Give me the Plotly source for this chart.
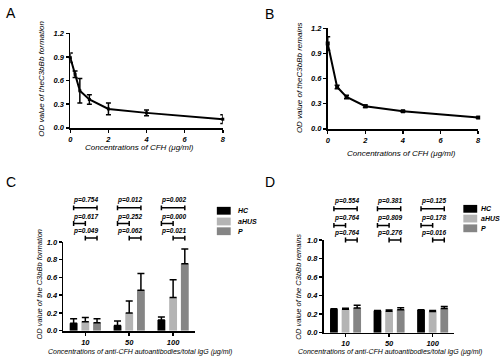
import plotly.graph_objects as go

W, H = 500, 364
def px(x): return x / W
def py(y): return 1 - y / H

# ---------------- data ----------------
# Panel A: C3bBb formation vs CFH concentration
a_conc = [0, 0.25, 0.5, 1, 2, 4, 8]
a_od = [0.89, 0.68, 0.47, 0.36, 0.24, 0.19, 0.11]
a_sd = [0.06, 0.04, 0.155, 0.06, 0.075, 0.035, 0.055]

# Panel B: C3bBb remains vs CFH concentration
b_conc = [0, 0.5, 1, 2, 4, 8]
b_od = [1.02, 0.50, 0.38, 0.27, 0.21, 0.135]
b_sd = [0.08, 0.02, 0.02, 0.015, 0.01, 0.005]

# Panels C / D: grouped bars
groups = ['10', '50', '100']
series = ['HC', 'aHUS', 'P']
colors = ['#000000', '#b4b4b4', '#858585']

c_hc = [0.085, 0.06, 0.12]
c_ahus = [0.10, 0.20, 0.375]
c_p = [0.09, 0.455, 0.755]
c_hc_err = [0.05, 0.05, 0.035]
c_ahus_err = [0.05, 0.135, 0.20]
c_p_err = [0.045, 0.19, 0.165]

d_hc = [0.254, 0.237, 0.244]
d_ahus = [0.254, 0.23, 0.228]
d_p = [0.265, 0.247, 0.26]
d_hc_err = [0.005, 0.003, 0.004]
d_ahus_err = [0.01, 0.015, 0.012]
d_p_err = [0.03, 0.022, 0.022]

# p-values per group: [HC vs P, HC vs aHUS, aHUS vs P]
c_pvals = [['p=0.754', 'p=0.617', 'p=0.049'],
           ['p=0.012', 'p=0.252', 'p=0.062'],
           ['p=0.002', 'p=0.000', 'p=0.021']]
d_pvals = [['p=0.554', 'p=0.764', 'p=0.764'],
           ['p=0.381', 'p=0.809', 'p=0.276'],
           ['p=0.125', 'p=0.178', 'p=0.016']]

# ---------------- styling ----------------
FONT = 'Liberation Sans'
BLACK = '#000000'
BARGAP = 0.2
SLOT = (1 - BARGAP) / 3

fig = go.Figure()

def line_trace(x, y, e, ax, marker_size):
    fig.add_trace(go.Scatter(
        x=x, y=y, mode='lines+markers', xaxis='x' + ax, yaxis='y' + ax,
        line=dict(color=BLACK, width=2),
        marker=dict(symbol='square', size=marker_size, color=BLACK),
        error_y=dict(type='data', array=e, color=BLACK, thickness=1.5, width=2.5),
        cliponaxis=False, showlegend=False))

line_trace(a_conc, a_od, a_sd, '', 3)
line_trace(b_conc, b_od, b_sd, '2', 4)

def bar_traces(means, errs, ax):
    for name, col, m, e in zip(series, colors, means, errs):
        fig.add_trace(go.Bar(
            x=groups, y=m, name=name, xaxis='x' + ax, yaxis='y' + ax,
            marker=dict(color=col, line=dict(width=0)),
            error_y=dict(type='data', symmetric=False, array=e,
                         arrayminus=[0] * len(e), color=BLACK,
                         thickness=1.5, width=3.5),
            showlegend=False))

bar_traces([c_hc, c_ahus, c_p], [c_hc_err, c_ahus_err, c_p_err], '3')
bar_traces([d_hc, d_ahus, d_p], [d_hc_err, d_ahus_err, d_p_err], '4')

tickfont = dict(family=FONT, size=7.5, color=BLACK, weight='bold', style='italic')

def axis(domain, rng, **kw):
    d = dict(domain=domain, range=rng, showline=True, linecolor=BLACK, linewidth=1.8,
             ticks='outside', ticklen=3, tickwidth=1.5, tickcolor=BLACK,
             showgrid=False, zeroline=False, tickfont=tickfont, fixedrange=True)
    d.update(kw)
    return d

layout = dict(
    width=W, height=H, margin=dict(l=0, r=0, t=0, b=0),
    paper_bgcolor='white', plot_bgcolor='white',
    barmode='group', bargap=BARGAP, bargroupgap=0.33,
    showlegend=False,
    xaxis=axis([px(69), px(223)], [0, 8], anchor='y', tickvals=[0, 2, 4, 6, 8]),
    yaxis=axis([py(127), py(30)], [0, 1.2], anchor='x',
               tickvals=[0, 0.3, 0.6, 0.9, 1.2], tickformat='.1f'),
    xaxis2=axis([px(329), px(481)], [0, 8], anchor='y2', tickvals=[0, 2, 4, 6, 8]),
    yaxis2=axis([py(128), py(25)], [0, 1.2], anchor='x2',
                tickvals=[0, 0.3, 0.6, 0.9, 1.2], tickformat='.1f'),
    xaxis3=axis([px(62), px(195)], [-0.5, 2.5], anchor='y3', type='category'),
    yaxis3=axis([py(335), py(244)], [0, 1.0], anchor='x3',
                tickvals=[0, 0.2, 0.4, 0.6, 0.8, 1.0], tickformat='.1f'),
    xaxis4=axis([px(325), px(457)], [-0.5, 2.5], anchor='y4', type='category'),
    yaxis4=axis([py(337), py(242)], [0, 1.0], anchor='x4',
                tickvals=[0, 0.2, 0.4, 0.6, 0.8, 1.0], tickformat='.1f'),
)
fig.update_layout(**layout)

ann = []
shapes = []

def text(x, y, s, size, xanchor='center', angle=0, bold=False, italic=True, xref='paper'):
    ann.append(dict(x=x, y=y, xref=xref, yref='paper', text=s, showarrow=False,
                    xanchor=xanchor, yanchor='middle', textangle=angle,
                    font=dict(family=FONT, size=size, color=BLACK,
                              weight='bold' if bold else 'normal',
                              style='italic' if italic else 'normal')))

# panel letters
for letter, x, y in [('A', 2, 9), ('B', 264, 10), ('C', 2, 183), ('D', 264, 183)]:
    ann.append(dict(x=px(x), y=py(y), xref='paper', yref='paper', text=letter,
                    showarrow=False, xanchor='left', yanchor='middle',
                    font=dict(family=FONT, size=14, color=BLACK)))

# axis titles
text(px(39), py(77), 'OD value of theC3bBb formation', 8, angle=-90)
text(px(139), py(147), 'Concentrations of CFH (\u03bcg/ml)', 8)
text(px(300), py(76), 'OD value of theC3bBb remains', 8, angle=-90)
text(px(404), py(153), 'Concentrations of CFH (\u03bcg/ml)', 8)
text(px(38), py(288), 'OD value of the C3bBb formation', 7.5, angle=-90)
text(px(139), py(357), 'Concentrations of anti-CFH autoantibodies/total IgG (\u03bcg/ml)', 7)
text(px(300), py(290), 'OD value of the C3bBb remains', 7.5, angle=-90)
text(px(392), py(357), 'Concentrations of anti-CFH autoantibodies/total IgG (\u03bcg/ml)', 7)

# significance brackets
def brackets(pvals, ax, text_y, br_y):
    pairs = [(0, 2), (0, 1), (1, 2)]
    for gi, plist in enumerate(pvals):
        for r, (a, b) in enumerate(pairs):
            x0 = gi + (a - 1) * SLOT
            x1 = gi + (b - 1) * SLOT
            yb = py(br_y[r])
            shapes.append(dict(type='line', xref=ax, yref='paper', x0=x0, x1=x1,
                               y0=yb, y1=yb, line=dict(color=BLACK, width=1.5)))
            for xe in (x0, x1):
                shapes.append(dict(type='line', xref=ax, yref='paper', x0=xe, x1=xe,
                                   y0=py(br_y[r] - 2.5), y1=py(br_y[r] + 2.5),
                                   line=dict(color=BLACK, width=1.5)))
            hc_x = gi - SLOT - 0.05
            ann.append(dict(x=hc_x, y=py(text_y[r]), xref=ax, yref='paper',
                            text=plist[r], showarrow=False, xanchor='left',
                            yanchor='middle',
                            font=dict(family=FONT, size=6.5, color=BLACK,
                                      weight='bold', style='italic')))

brackets(c_pvals, 'x3', [201, 218, 233], [209, 225, 240])
brackets(d_pvals, 'x4', [202, 219, 235], [210, 227, 242])

# manual legends
def legend(x_box, y_centers, x_text, size):
    for name, col, yc in zip(series, colors, y_centers):
        shapes.append(dict(type='rect', xref='paper', yref='paper',
                           x0=px(x_box), x1=px(x_box + 14),
                           y0=py(yc + 4), y1=py(yc - 4),
                           fillcolor=col, line=dict(width=0)))
        ann.append(dict(x=px(x_text), y=py(yc), xref='paper', yref='paper',
                        text=name, showarrow=False, xanchor='left', yanchor='middle',
                        font=dict(family=FONT, size=size, color=BLACK,
                                  weight='bold', style='italic')))

legend(217, [212, 223, 233], 236, 7)
legend(466, [210, 220, 230], 482, 7)

fig.update_layout(annotations=ann, shapes=shapes)
fig.write_html('out.html', config={'displayModeBar': False, 'staticPlot': True})

# remove the default body margin so the figure sits at the page origin
with open('out.html', encoding='utf-8') as f:
    html = f.read()
html = html.replace('<body>', '<body style="margin:0;padding:0;overflow:hidden">', 1)
with open('out.html', 'w', encoding='utf-8') as f:
    f.write(html)
